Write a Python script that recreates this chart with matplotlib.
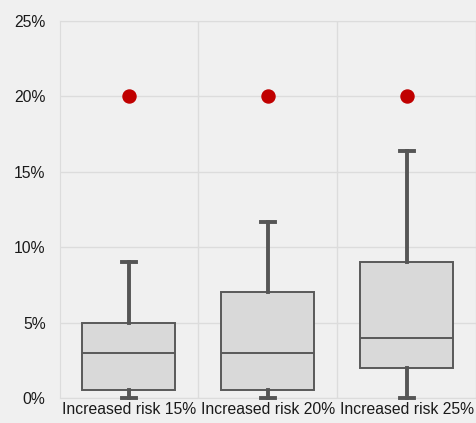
import matplotlib.pyplot as plt
from matplotlib.ticker import PercentFormatter

plt.rcParams['font.family'] = ['Liberation Sans', 'DejaVu Sans']

categories = ["Increased risk 15%", "Increased risk 20%", "Increased risk 25%"]
whisker_low = [0.0, 0.0, 0.0]
q1 = [0.5, 0.5, 2.0]
medians = [3.0, 3.0, 4.0]
q3 = [5.0, 7.0, 9.0]
whisker_high = [9.0, 11.7, 16.4]
target = [20.0, 20.0, 20.0]

stats = []
for i, name in enumerate(categories):
    stats.append({"label": name, "whislo": whisker_low[i], "q1": q1[i], "med": medians[i],
                  "q3": q3[i], "whishi": whisker_high[i], "fliers": []})

bg = "#f0f0f0"
fig = plt.figure(figsize=(4.76, 4.23), dpi=100, facecolor=bg)
ax = fig.add_axes([59.5 / 476, 25 / 423, 1 - 59.5 / 476, 377 / 423], facecolor=bg)

pos = list(range(len(categories)))
parts = ax.bxp(stats, positions=pos, widths=0.67, patch_artist=True, showfliers=False,
               boxprops=dict(facecolor="#d9d9d9", edgecolor="#595959", linewidth=1.4),
               medianprops=dict(color="#595959", linewidth=1.4),
               whiskerprops=dict(color="#555555", linewidth=2.8),
               capprops=dict(color="#555555", linewidth=2.8),
               capwidths=0.1, zorder=3)
for key in ["whiskers", "caps"]:
    for ln in parts[key]:
        ln.set_clip_on(False)
ax.scatter(pos, target, s=88, color="#c00000", zorder=4)

ax.set_xlim(-0.5, 2.5)
ax.set_ylim(0, 25)
ax.set_yticks([0, 5, 10, 15, 20, 25])
ax.yaxis.set_major_formatter(PercentFormatter(decimals=0))
ax.set_xticks(pos)
ax.set_xticklabels(categories)
ax.set_xticks([0.5, 1.5, 2.5], minor=True)
ax.grid(True, axis="y", color="#dcdcdc", linewidth=1, zorder=0)
ax.grid(True, axis="x", which="minor", color="#dcdcdc", linewidth=1, zorder=0)
ax.tick_params(axis="both", which="both", length=0, labelsize=11.3, colors="#1a1a1a")
ax.tick_params(axis="y", pad=10)
ax.tick_params(axis="x", pad=3)
for s in ["left", "top", "bottom"]:
    ax.spines[s].set_color("#dcdcdc")
ax.spines["right"].set_visible(False)

fig.savefig("out.png", dpi=100, facecolor=bg)
